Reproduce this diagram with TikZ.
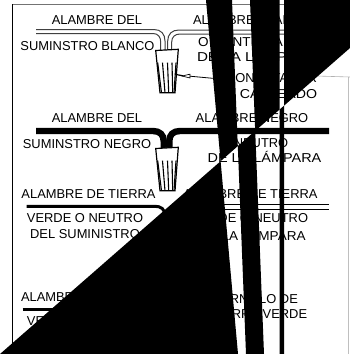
\documentclass[tikz,border=0pt]{standalone}
\usepackage{fontspec}
\setmainfont{Liberation Sans}
\tikzset{
  lbl/.style={inner sep=0pt,outer sep=0pt,anchor=base,font=\fontsize{12.9}{14}\selectfont},
  lblw/.style={lbl,anchor=base west},
  whitewire/.style={draw=black!75,line width=1pt},
  thickwire/.style={draw=black,line width=6.4pt},
  groundwire/.style={draw=black,line width=3pt},
  thinwire/.style={draw=black,line width=1pt},
  nutbody/.style={draw=black,fill=white,line width=1.2pt},
  rib/.style={draw=black,line width=1.1pt},
  blackout/.style={fill=black,draw=none}
}
\begin{document}
\begin{tikzpicture}[x=1pt,y=-1pt]
\useasboundingbox (0,0) rectangle (350,354);
\fill[white] (0,0) rectangle (350,354);
% frame
\draw[draw=black!55,line width=1.1pt] (12,4.6) -- (350,4.6);
\draw[draw=black,line width=0.9pt] (12.4,354) -- (12.4,4.2);
\draw[draw=black!25,line width=0.6pt] (348,77) -- (348,354);
\draw[draw=black!30,line width=0.6pt] (316,76) -- (350,77);
% labels
\node[lbl] (t1) at (97,24.6) {ALAMBRE DEL};
\node[lbl] (t2) at (87.5,50.6) {SUMINSTRO BLANCO};
\node[lblw] (t3) at (193,24.6) {ALAMBRE BLANCO};
\node[lblw] (t4) at (198,46.6) {\scalebox{1.05}[1]{O CONTINUA}};
\node[lblw] (t5) at (197,61.6) {\scalebox{1.18}[1]{DE LA LÁMPARA}};
\node[lbl] (t6) at (271.5,82.6) {CONECTADOR};
\node[lbl] (t7) at (278.5,98.1) {\scalebox{1.1}[1]{CABLEADO}};
\node[lbl] (t8) at (97,122.6) {ALAMBRE DEL};
\node[lbl] (t9) at (87,148.6) {SUMINSTRO NEGRO};
\node[lbl] (t10) at (252,122.6) {ALAMBRE NEGRO};
\node[lbl] (t11) at (261,147.6) {NEUTRO};
\node[lbl] (t12) at (264.5,162.8) {\scalebox{1.12}[1]{DE LA LÁMPARA}};
\node[lbl] (t13) at (88.5,198.6) {ALAMBRE DE TIERRA};
\node[lbl] (t14) at (85,222.6) {VERDE O NEUTRO};
\node[lbl] (t15) at (85,238.6) {DEL SUMINISTRO};
\node[lbl] (t16) at (250.5,198.6) {ALAMBRE DE TIERRA};
\node[lbl] (t17) at (250,222.6) {VERDE O NEUTRO};
\node[lblw] (t18) at (199,240.6) {\scalebox{1.05}[1]{DE LA LÁMPARA}};
\node[lblw] (t19) at (21,301.6) {ALAMBRE DE TIERRA};
\node[lblw] (t20) at (27,325.6) {VERDE};
\node[lbl] (t21) at (255,303.6) {TORNILLO DE};
\node[lbl] (t22) at (259.5,318.6) {TIERRA VERDE};
% white wire
\draw[whitewire] (36,29.5) -- (154,29.5) .. controls (161,29.5) and (165,34) .. (165,41) -- (165,50);
\draw[whitewire] (36,33.5) -- (153,33.5) .. controls (158,33.5) and (160.7,37) .. (160.7,42) -- (160.7,50);
\draw[whitewire] (290,30) -- (179,30) .. controls (172,30) and (167.7,34) .. (167.7,41) -- (167.7,50);
\draw[whitewire] (290,34) -- (180,34) .. controls (175,34) and (171.7,37) .. (171.7,42) -- (171.7,50);
% black wire
\draw[thickwire] (36,131) -- (153,131) .. controls (160,131) and (163.7,135) .. (163.7,141) -- (163.7,149);
\draw[thickwire] (329,131) -- (180,131) .. controls (173,131) and (169.3,135) .. (169.3,141) -- (169.3,149);
% ground wires
\draw[groundwire] (26.7,206.3) -- (155,206.3) .. controls (161,206.3) and (165,209) .. (165,216);
\draw[groundwire] (22.7,309) -- (170,309);
\draw[thinwire] (190,204.3) -- (329,204.3);
\draw[thinwire] (190,209) -- (329,209);
% wire nuts
\foreach \dy in {0,98}{
  \begin{scope}[yshift=-\dy pt]
    \draw[nutbody] (155.7,50.5) -- (178.3,49.3) -- (175,92.7) -- (160,92.7) -- cycle;
    \foreach \rx/\bx in {157.7/161.5,162.5/165,167.5/168.7,172/172.7,176/174}{
      \draw[rib] (\rx,62.7) -- (\bx,92.7);
    }
  \end{scope}
}
% lead of the connector
\draw[draw=black,line width=1.2pt] (175,74.3) -- (183,75.8);
\draw[draw=black,line width=0.7pt] (182,76) -- (190,74.2) -- (190,78) -- cycle;
\draw[draw=black,line width=0.8pt] (190,76.2) -- (216,78.6);
% black overlay
\fill[blackout] (206,0) -- (232,0) -- (237.8,146.1) -- (220.6,161.2) -- cycle;
\fill[blackout] (250,0) -- (279.5,0) -- (279.5,109.6) -- (255.2,130.9) -- cycle;
\fill[blackout] (284,0) -- (350,0) -- (350,48) -- (284,105.7) -- cycle;
\fill[blackout] (0,354) -- (220.6,161.2) -- (238,354) -- cycle;
\fill[blackout] (237.8,146.1) -- (255.2,130.9) -- (264,354) -- (246,354) -- cycle;
\fill[blackout] (279.5,109.6) -- (284,105.7) -- (284,354) -- (279.5,354) -- cycle;
\end{tikzpicture}
\end{document}
